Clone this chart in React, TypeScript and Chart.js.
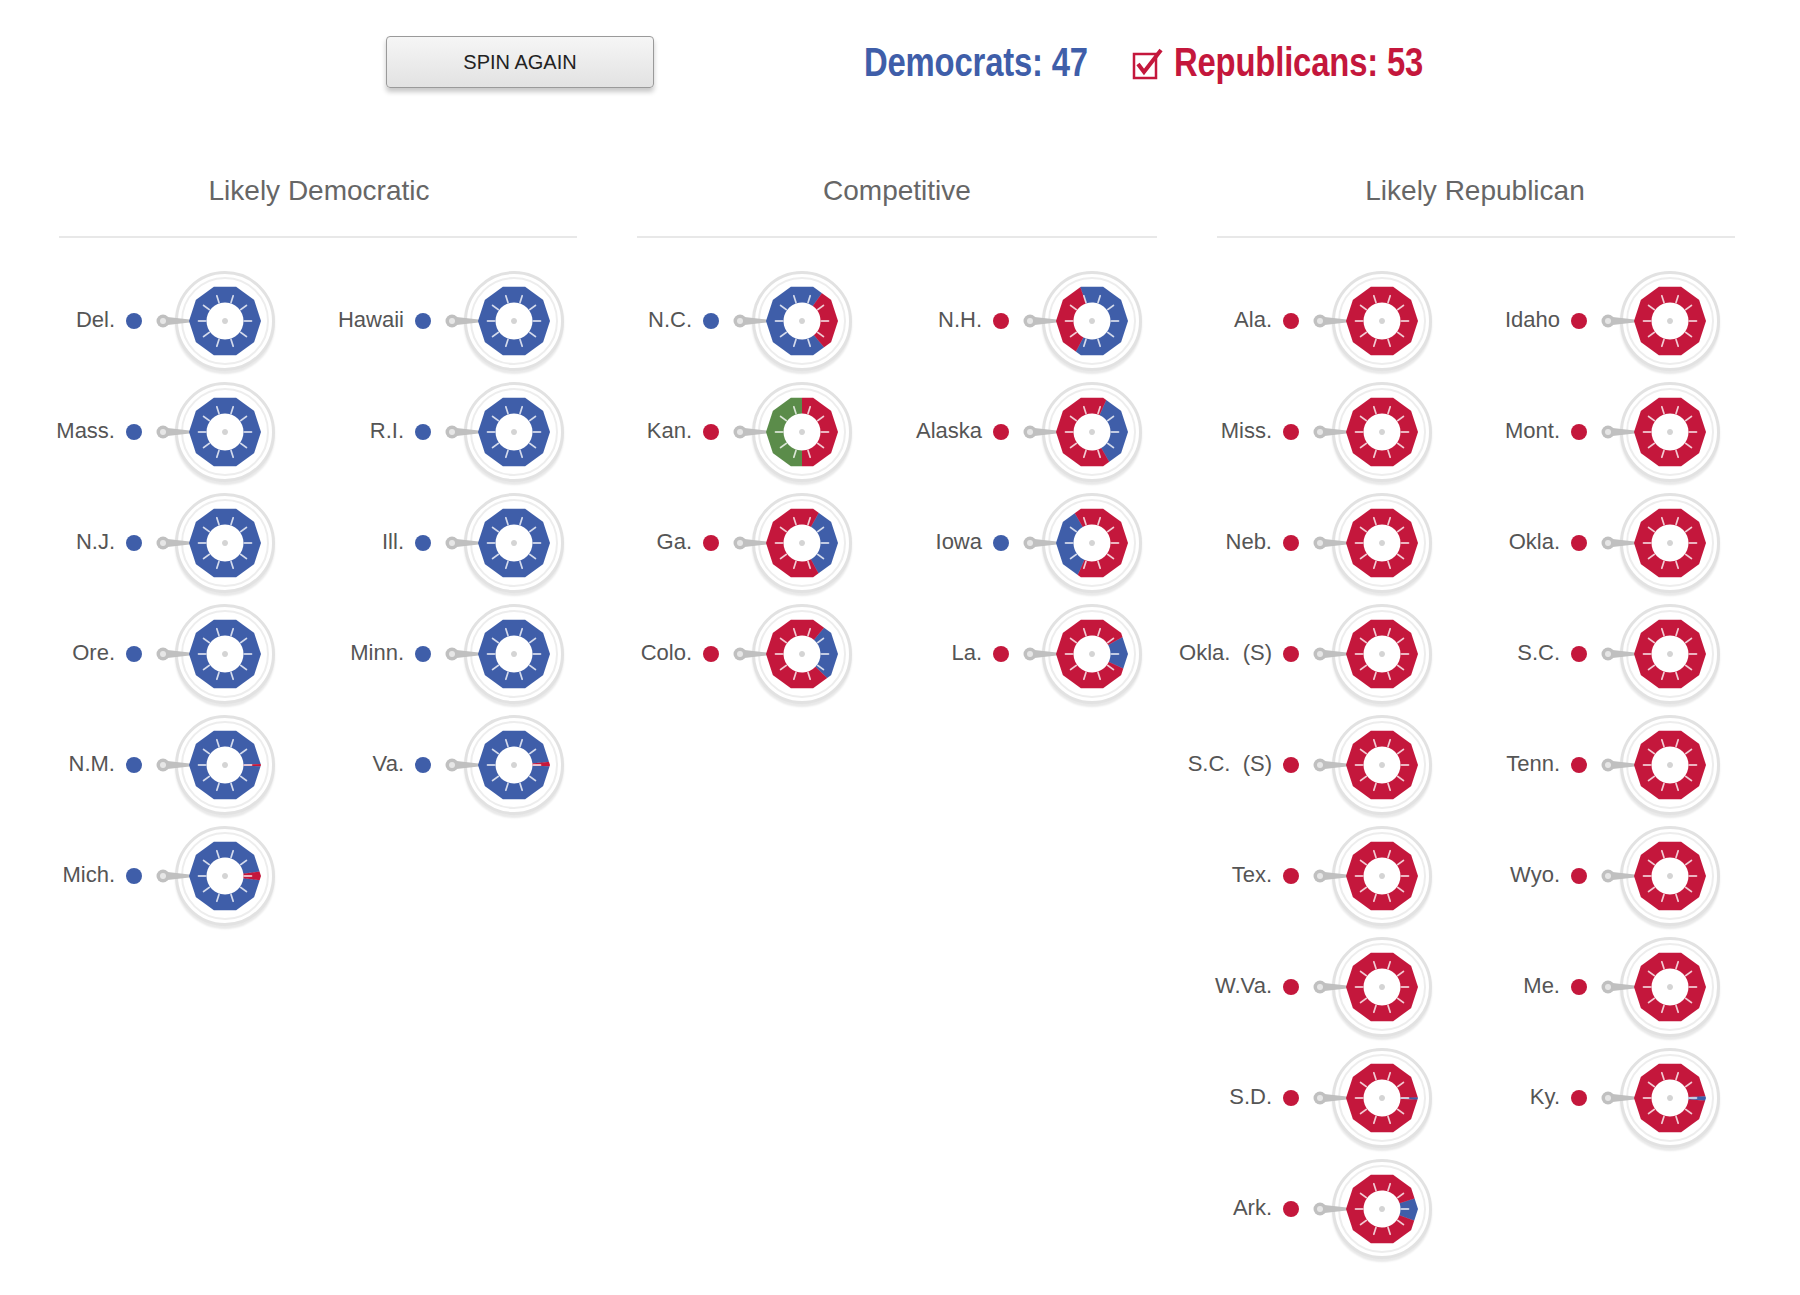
import React, { useEffect, useRef } from "react";
import { Chart, registerables } from "chart.js";

Chart.register(...registerables);

// ---------- data ----------
const sectionTitles = ["Likely Democratic", "Competitive", "Likely Republican"];

const states = [
  "Del.", "Hawaii", "Mass.", "R.I.", "N.J.", "Ill.", "Ore.", "Minn.", "N.M.", "Va.", "Mich.",
  "N.C.", "N.H.", "Kan.", "Alaska", "Ga.", "Iowa", "Colo.", "La.",
  "Ala.", "Idaho", "Miss.", "Mont.", "Neb.", "Okla.", "Okla.  (S)", "S.C.", "S.C.  (S)", "Tenn.",
  "Tex.", "Wyo.", "W.Va.", "Me.", "S.D.", "Ky.", "Ark.",
];

const sectionOf = [
  0, 0, 0, 0, 0, 0, 0, 0, 0, 0, 0,
  1, 1, 1, 1, 1, 1, 1, 1,
  2, 2, 2, 2, 2, 2, 2, 2, 2, 2, 2, 2, 2, 2, 2, 2, 2,
];

// probability shares on each wheel
const demShare = [
  1, 1, 1, 1, 1, 1, 1, 1, 0.99, 0.98, 0.96,
  0.71, 0.63, 0, 0.35, 0.34, 0.35, 0.26, 0.15,
  0, 0, 0, 0, 0, 0, 0, 0, 0, 0, 0, 0, 0, 0, 0.01, 0.02, 0.105,
];
const repShare = [
  0, 0, 0, 0, 0, 0, 0, 0, 0.01, 0.02, 0.04,
  0.29, 0.37, 0.5, 0.65, 0.66, 0.65, 0.74, 0.85,
  1, 1, 1, 1, 1, 1, 1, 1, 1, 1, 1, 1, 1, 1, 0.99, 0.98, 0.895,
];
const indShare = [
  0, 0, 0, 0, 0, 0, 0, 0, 0, 0, 0,
  0, 0, 0.5, 0, 0, 0, 0, 0,
  0, 0, 0, 0, 0, 0, 0, 0, 0, 0, 0, 0, 0, 0, 0, 0, 0,
];
// where each spun wheel came to rest (start angle of the Democratic slice, degrees clockwise from top)
const spinStart = [
  0, 0, 0, 0, 0, 0, 0, 0, 92, 92, 97,
  140, 341, 0, 24, 29, 204, 40, 61,
  0, 0, 0, 0, 0, 0, 0, 0, 0, 0, 0, 0, 0, 0, 89, 87, 72,
];
// outcome under the pointer
const winner = [
  "D", "D", "D", "D", "D", "D", "D", "D", "D", "D", "D",
  "D", "R", "R", "R", "R", "D", "R", "R",
  "R", "R", "R", "R", "R", "R", "R", "R", "R", "R", "R", "R", "R", "R", "R", "R", "R",
];

const seatLabels = ["Democrats", "Republicans"];
const seatCounts = [47, 53];

// ---------- style ----------
const BLUE = "#3f5ea9";
const RED = "#c4173c";
const GREEN = "#5b8c4a";
const FONT = '"Liberation Sans", Arial, Helvetica, sans-serif';

const colX = [225, 514, 802, 1092, 1382, 1670];
const rowY0 = 321;
const rowStep = 111;

const wheelPlugin = {
  id: "wheelDeco",
  beforeDatasetsDraw(chart: any) {
    const arc = chart.getDatasetMeta(0).data[0];
    if (!arc) return;
    const ctx = chart.ctx;
    const R = arc.outerRadius - 1;
    ctx.save();
    ctx.beginPath();
    for (let k = 0; k < 10; k++) {
      const a = (k * 36 * Math.PI) / 180;
      const x = arc.x + R * Math.cos(a);
      const y = arc.y + R * Math.sin(a);
      if (k === 0) ctx.moveTo(x, y);
      else ctx.lineTo(x, y);
    }
    ctx.closePath();
    ctx.clip();
  },
  afterDatasetsDraw(chart: any) {
    const arc = chart.getDatasetMeta(0).data[0];
    if (!arc) return;
    const ctx = chart.ctx;
    ctx.restore();
    ctx.save();
    ctx.strokeStyle = "rgba(255,255,255,0.78)";
    ctx.lineWidth = 1.7;
    ctx.lineCap = "round";
    for (let k = 0; k < 10; k++) {
      const a = (k * 36 * Math.PI) / 180;
      const r1 = arc.innerRadius + 1;
      const r2 = arc.innerRadius + 8;
      ctx.beginPath();
      ctx.moveTo(arc.x + r1 * Math.cos(a), arc.y + r1 * Math.sin(a));
      ctx.lineTo(arc.x + r2 * Math.cos(a), arc.y + r2 * Math.sin(a));
      ctx.stroke();
    }
    ctx.fillStyle = "#d4d4d4";
    ctx.beginPath();
    ctx.arc(arc.x, arc.y, 3, 0, Math.PI * 2);
    ctx.fill();
    ctx.restore();
  },
};

function Wheel({ i, cx, cy }: { i: number; cx: number; cy: number }) {
  const ref = useRef<HTMLCanvasElement | null>(null);
  useEffect(() => {
    if (!ref.current) return;
    const chart = new Chart(ref.current, {
      type: "doughnut",
      data: {
        labels: ["Democrat", "Republican", "Independent"],
        datasets: [
          {
            data: [demShare[i], repShare[i], indShare[i]],
            backgroundColor: [BLUE, RED, GREEN],
            borderWidth: 0,
          },
        ],
      },
      options: {
        animation: false,
        responsive: false,
        devicePixelRatio: 2,
        rotation: spinStart[i],
        radius: 37,
        cutout: "50%",
        events: [],
        layout: { padding: 0 },
        plugins: { legend: { display: false }, tooltip: { enabled: false } },
      } as any,
      plugins: [wheelPlugin],
    });
    return () => chart.destroy();
  }, [i]);

  const dotColor = winner[i] === "D" ? BLUE : RED;
  return (
    <>
      <div
        style={{
          position: "absolute",
          left: cx - 110 - 200,
          width: 200,
          top: cy - 14,
          height: 28,
          lineHeight: "28px",
          textAlign: "right",
          font: `22px ${FONT}`,
          color: "#555",
          whiteSpace: "pre",
        }}
      >
        {states[i]}
      </div>
      <div
        style={{
          position: "absolute",
          left: cx - 91 - 8,
          top: cy - 8,
          width: 16,
          height: 16,
          borderRadius: "50%",
          background: dotColor,
        }}
      />
      <div
        style={{
          position: "absolute",
          left: cx - 50,
          top: cy - 50,
          width: 94,
          height: 94,
          borderRadius: "50%",
          border: "3px solid #e2e2e2",
          boxShadow: "0 3px 2px rgba(0,0,0,0.09)",
          background: "#fff",
          zIndex: 1,
        }}
      />
      <div
        style={{
          position: "absolute",
          left: cx - 44,
          top: cy - 44,
          width: 84,
          height: 84,
          borderRadius: "50%",
          border: "2px solid #ededed",
          zIndex: 1,
        }}
      />
      <svg
        width={44}
        height={18}
        style={{ position: "absolute", left: cx - 71, top: cy - 9, zIndex: 2 }}
      >
        <polygon points="9,4.5 9,13.5 40,10 40,8" fill="#c0c0c0" />
        <circle cx={9} cy={9} r={6.5} fill="#c0c0c0" />
        <circle cx={9} cy={9} r={3} fill="#e6e6e6" />
      </svg>
      <canvas
        ref={ref}
        width={100}
        height={100}
        style={{ position: "absolute", left: cx - 50, top: cy - 50, width: 100, height: 100, zIndex: 3 }}
      />
    </>
  );
}

export default function App() {
  const sepRanges = [
    [59, 577],
    [637, 1157],
    [1217, 1735],
  ];
  const titleCenters = [319, 897, 1475];
  const counters = [0, 0, 0];
  const wheels = states.map((_, i) => {
    const s = sectionOf[i];
    const k = counters[s]++;
    const col = s * 2 + (k % 2);
    const row = Math.floor(k / 2);
    return <Wheel key={i} i={i} cx={colX[col]} cy={rowY0 + row * rowStep} />;
  });

  const headStyle = (left: number, color: string): React.CSSProperties => ({
    position: "absolute",
    left,
    top: 40,
    height: 50,
    lineHeight: "50px",
    font: `bold 40px ${FONT}`,
    color,
    whiteSpace: "pre",
    transform: "scaleX(0.82)",
    transformOrigin: "left center",
    letterSpacing: "-0.2px",
  });

  return (
    <div
      style={{
        position: "absolute",
        left: 0,
        top: 0,
        width: 1800,
        height: 1295,
        background: "#fff",
        overflow: "hidden",
      }}
    >
      <div
        style={{
          position: "absolute",
          left: 386,
          top: 36,
          width: 266,
          height: 50,
          border: "1px solid #9a9a9a",
          borderRadius: 4,
          background: "linear-gradient(#f6f6f6, #e2e2e2)",
          boxShadow: "0 4px 5px rgba(0,0,0,0.22)",
          font: `20px ${FONT}`,
          color: "#222",
          lineHeight: "50px",
          textAlign: "center",
        }}
      >
        SPIN AGAIN
      </div>
      <div style={headStyle(864, BLUE)}>{`${seatLabels[0]}: ${seatCounts[0]}`}</div>
      <svg width={34} height={34} style={{ position: "absolute", left: 1132, top: 47 }}>
        <rect x={2} y={7} width={22} height={24} fill="none" stroke={RED} strokeWidth={2.5} />
        <polyline points="6,17 12,25 29,3" fill="none" stroke={RED} strokeWidth={4} />
      </svg>
      <div style={headStyle(1174, RED)}>{`${seatLabels[1]}: ${seatCounts[1]}`}</div>
      {sectionTitles.map((t, s) => (
        <React.Fragment key={t}>
          <div
            style={{
              position: "absolute",
              left: titleCenters[s] - 200,
              width: 400,
              top: 175,
              height: 36,
              lineHeight: "36px",
              textAlign: "center",
              font: `28px ${FONT}`,
              color: "#666",
            }}
          >
            {t}
          </div>
          <div
            style={{
              position: "absolute",
              left: sepRanges[s][0],
              width: sepRanges[s][1] - sepRanges[s][0],
              top: 236,
              height: 2,
              background: "#e8e8e8",
            }}
          />
        </React.Fragment>
      ))}
      {wheels}
    </div>
  );
}
